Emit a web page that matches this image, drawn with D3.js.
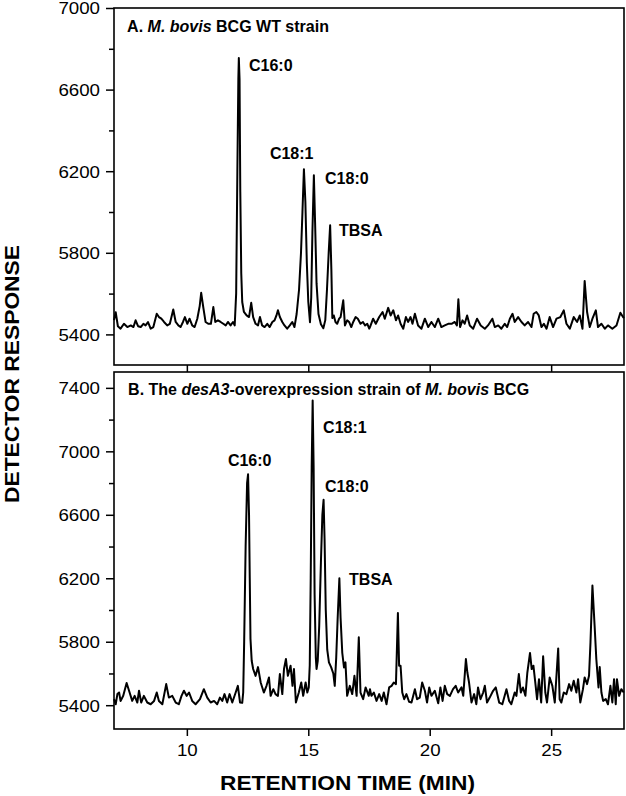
<!DOCTYPE html>
<html>
<head>
<meta charset="utf-8">
<script src="https://cdn.jsdelivr.net/npm/d3@7"></script>
<style>
body { margin: 0; background: #fff; }
svg { display: block; }
text { font-family: "Liberation Sans", Arial, sans-serif; fill: #000; }
</style>
</head>
<body>
<div id="chart"></div>
<script>
var chart_width = 626,
    chart_height = 796;

// [retention time (min), detector response] (WT strain)
var traceA = [
    [7.00,5470],[7.07,5509],[7.16,5440],[7.27,5428],[7.41,5452],[7.55,5436],[7.69,5444],[7.80,5436],
    [7.89,5469],[7.99,5440],[8.10,5436],[8.21,5452],[8.30,5444],[8.40,5460],[8.51,5428],[8.62,5436],
    [8.76,5501],[8.85,5485],[8.95,5477],[9.06,5461],[9.19,5444],[9.30,5452],[9.44,5522],[9.54,5461],
    [9.65,5444],[9.74,5436],[9.84,5461],[9.92,5485],[10.02,5452],[10.11,5477],[10.22,5444],[10.32,5436],
    [10.43,5477],[10.53,5540],[10.59,5604],[10.68,5530],[10.77,5461],[10.88,5452],[10.99,5452],[11.09,5534],
    [11.17,5461],[11.28,5469],[11.39,5461],[11.50,5452],[11.60,5444],[11.69,5461],[11.80,5444],[11.90,5461],
    [11.97,5444],[12.03,5600],[12.08,6200],[12.12,6650],[12.14,6755],[12.17,6650],[12.20,6100],[12.24,5700],
    [12.28,5559],[12.35,5510],[12.46,5493],[12.56,5485],[12.65,5555],[12.73,5485],[12.83,5452],[12.93,5444],
    [13.01,5485],[13.10,5444],[13.20,5436],[13.31,5452],[13.41,5436],[13.52,5461],[13.61,5469],[13.69,5493],
    [13.75,5518],[13.83,5485],[13.93,5461],[14.02,5444],[14.13,5428],[14.24,5444],[14.34,5461],[14.43,5436],
    [14.52,5500],[14.62,5620],[14.70,5800],[14.76,6000],[14.82,6210],[14.88,6050],[14.94,5750],[15.00,5560],
    [15.07,5460],[15.12,5580],[15.17,5900],[15.23,6180],[15.28,5950],[15.34,5650],[15.42,5500],[15.52,5450],
    [15.62,5430],[15.70,5470],[15.77,5620],[15.84,5800],[15.90,5935],[15.95,5720],[15.99,5480],[16.05,5493],
    [16.12,5461],[16.19,5452],[16.27,5477],[16.33,5485],[16.44,5567],[16.51,5444],[16.60,5469],[16.68,5461],
    [16.77,5436],[16.85,5461],[16.95,5485],[17.04,5477],[17.15,5452],[17.25,5461],[17.34,5444],[17.43,5452],
    [17.51,5428],[17.54,5436],[17.67,5477],[17.78,5452],[17.92,5485],[18.06,5510],[18.15,5477],[18.29,5530],
    [18.39,5493],[18.50,5518],[18.61,5469],[18.70,5493],[18.80,5452],[18.91,5428],[19.02,5485],[19.11,5461],
    [19.21,5485],[19.29,5452],[19.39,5501],[19.52,5444],[19.66,5428],[19.80,5477],[19.94,5436],[20.07,5461],
    [20.21,5436],[20.35,5477],[20.48,5436],[20.62,5444],[20.76,5452],[20.90,5452],[21.03,5461],[21.12,5444],
    [21.18,5572],[21.25,5436],[21.35,5469],[21.44,5452],[21.54,5493],[21.65,5444],[21.79,5428],[21.95,5477],
    [22.10,5444],[22.27,5428],[22.40,5444],[22.58,5477],[22.68,5436],[22.82,5444],[22.95,5428],[23.09,5452],
    [23.19,5436],[23.30,5477],[23.41,5501],[23.50,5461],[23.64,5485],[23.78,5461],[23.91,5444],[24.05,5461],
    [24.19,5436],[24.28,5501],[24.39,5510],[24.49,5493],[24.60,5436],[24.70,5452],[24.81,5428],[24.94,5485],
    [25.08,5436],[25.22,5477],[25.38,5485],[25.52,5518],[25.63,5452],[25.77,5428],[25.93,5485],[26.07,5461],
    [26.18,5493],[26.29,5428],[26.38,5662],[26.48,5510],[26.59,5436],[26.70,5477],[26.84,5518],[26.93,5436],
    [27.07,5452],[27.21,5428],[27.34,5444],[27.52,5428],[27.69,5444],[27.85,5506],[27.96,5485],[28.00,5480]
];

// panel B (desA3-overexpression strain)
var traceB = [
    [7.00,5438],[7.07,5406],[7.14,5470],[7.21,5480],[7.27,5427],[7.38,5459],[7.52,5540],[7.62,5491],
    [7.75,5427],[7.85,5459],[7.96,5417],[8.03,5491],[8.12,5417],[8.23,5459],[8.37,5417],[8.51,5406],
    [8.65,5427],[8.76,5480],[8.85,5427],[8.99,5406],[9.15,5533],[9.26,5448],[9.40,5459],[9.54,5417],
    [9.67,5406],[9.78,5459],[9.88,5491],[9.99,5459],[10.09,5480],[10.22,5427],[10.36,5406],[10.54,5438],
    [10.70,5501],[10.84,5448],[10.98,5417],[11.12,5427],[11.25,5406],[11.36,5448],[11.46,5427],[11.55,5470],
    [11.66,5417],[11.76,5470],[11.87,5417],[12.01,5480],[12.10,5522],[12.19,5417],[12.28,5415],[12.32,5480],
    [12.36,5800],[12.42,6400],[12.48,6800],[12.52,6855],[12.56,6600],[12.59,6200],[12.62,5817],[12.67,5680],
    [12.73,5628],[12.83,5585],[12.93,5640],[13.04,5543],[13.17,5480],[13.28,5522],[13.38,5575],[13.45,5459],
    [13.56,5501],[13.65,5470],[13.75,5459],[13.83,5596],[13.93,5470],[14.00,5628],[14.08,5691],[14.16,5585],
    [14.27,5649],[14.35,5522],[14.41,5628],[14.49,5417],[14.61,5480],[14.71,5543],[14.79,5459],[14.89,5543],
    [14.96,5480],[15.02,5512],[15.06,5650],[15.10,6200],[15.14,6900],[15.18,7320],[15.22,6900],[15.26,6100],
    [15.31,5700],[15.34,5628],[15.39,5680],[15.45,5900],[15.52,6300],[15.58,6600],[15.63,6695],[15.67,6450],
    [15.72,6000],[15.78,5750],[15.85,5670],[15.94,5640],[16.03,5600],[16.09,5522],[16.15,5700],[16.21,5950],
    [16.28,6200],[16.33,5950],[16.40,5729],[16.47,5638],[16.53,5670],[16.60,5459],[16.71,5522],[16.81,5470],
    [16.90,5585],[16.99,5459],[17.08,5828],[17.15,5480],[17.26,5438],[17.36,5512],[17.49,5459],[17.54,5501],
    [17.60,5459],[17.70,5480],[17.81,5427],[17.92,5470],[18.02,5427],[18.11,5480],[18.22,5406],[18.33,5512],
    [18.43,5522],[18.52,5543],[18.61,5533],[18.69,5981],[18.74,5649],[18.80,5649],[18.87,5480],[18.95,5438],
    [19.04,5470],[19.15,5422],[19.25,5417],[19.39,5501],[19.48,5438],[19.59,5448],[19.69,5543],[19.80,5491],
    [19.89,5417],[19.98,5512],[20.07,5459],[20.21,5491],[20.35,5412],[20.44,5512],[20.53,5427],[20.62,5522],
    [20.72,5470],[20.83,5459],[20.96,5501],[21.07,5522],[21.17,5480],[21.31,5512],[21.38,5459],[21.49,5691],
    [21.55,5606],[21.62,5543],[21.72,5417],[21.83,5470],[21.92,5406],[21.99,5512],[22.09,5438],[22.20,5480],
    [22.27,5522],[22.36,5417],[22.47,5448],[22.61,5491],[22.72,5512],[22.86,5417],[22.99,5406],[23.16,5501],
    [23.27,5427],[23.36,5406],[23.50,5480],[23.57,5459],[23.67,5596],[23.75,5480],[23.84,5512],[23.94,5459],
    [24.02,5606],[24.13,5729],[24.20,5628],[24.27,5649],[24.34,5554],[24.42,5438],[24.50,5564],[24.59,5417],
    [24.67,5708],[24.76,5480],[24.83,5417],[24.94,5575],[25.05,5522],[25.15,5417],[25.29,5758],[25.35,5438],
    [25.42,5417],[25.52,5480],[25.63,5470],[25.74,5533],[25.83,5491],[25.93,5554],[26.04,5480],[26.11,5564],
    [26.20,5417],[26.31,5501],[26.38,5575],[26.48,5533],[26.56,5585],[26.62,5796],[26.70,6154],[26.79,5901],
    [26.86,5691],[26.95,5512],[27.00,5640],[27.07,5480],[27.14,5427],[27.25,5438],[27.34,5406],[27.44,5522],
    [27.52,5417],[27.59,5564],[27.66,5406],[27.71,5564],[27.80,5459],[27.89,5501],[27.99,5480]
];

var timeTicks = [10, 15, 20, 25];
var majorTicksA = [5400, 5800, 6200, 6600, 7000];
var minorTicksA = [5600, 6000, 6400, 6800];
var majorTicksB = [5400, 5800, 6200, 6600, 7000, 7400];
var minorTicksB = [5600, 6000, 6400, 6800, 7200];

// peak labels, anchored in data units
var peaksA = [
    {name: "C16:0", t: 12.56, v: 6689},
    {name: "C18:1", t: 13.42, v: 6260},
    {name: "C18:0", t: 15.69, v: 6137},
    {name: "TBSA", t: 16.26, v: 5882}
];
var peaksB = [
    {name: "C16:0", t: 11.69, v: 6908},
    {name: "C18:1", t: 15.61, v: 7116},
    {name: "C18:0", t: 15.69, v: 6744},
    {name: "TBSA", t: 16.68, v: 6158}
];

// panel titles: [text, italic]
var titleA = [["A. ", false], ["M. bovis", true], [" BCG WT strain", false]];
var titleB = [["B. The ", false], ["desA3", true], ["-overexpression strain of ", false], ["M. bovis", true], [" BCG", false]];

var svg = d3.select("#chart")
    .append("svg")
    .attr("width", chart_width)
    .attr("height", chart_height);

var x = d3.scaleLinear().domain([7, 28]).range([114, 624]);

var panels = [
    {top: 8, bottom: 365, domain: [5250, 7000], trace: traceA, major: majorTicksA, minor: minorTicksA,
     peaks: peaksA, title: titleA, titlePos: [7.54, 6880], labels: false},
    {top: 372, bottom: 729, domain: [5250, 7500], trace: traceB, major: majorTicksB, minor: minorTicksB,
     peaks: peaksB, title: titleB, titlePos: [7.58, 7358], labels: true}
];

function styleAxis(g) {
    g.select('.domain').remove();
    g.selectAll('line').attr('stroke', '#000').attr('stroke-width', 1.5);
    g.attr('font-family', null).attr('font-size', null);
    g.selectAll('text')
        .attr('font-size', 16)
        .attr('textLength', function (d) { return String(d).length * 10.4; })
        .attr('lengthAdjust', 'spacingAndGlyphs');
}

panels.forEach(function (p) {
    var y = d3.scaleLinear().domain(p.domain).range([p.bottom, p.top]);
    var panel = svg.append('g');

    // y axis, major then minor ticks
    panel.append('g')
        .attr('transform', 'translate(' + x.range()[0] + ',0)')
        .call(d3.axisLeft(y).tickValues(p.major).tickSize(8).tickPadding(6).tickFormat(d3.format('d')))
        .call(styleAxis)
        .selectAll('text').attr('dy', '0.37em');

    panel.append('g')
        .attr('transform', 'translate(' + x.range()[0] + ',0)')
        .call(d3.axisLeft(y).tickValues(p.minor).tickSize(5).tickFormat(''))
        .call(styleAxis);

    // x axis
    var xAxis = panel.append('g')
        .attr('transform', 'translate(0,' + p.bottom + ')')
        .call(d3.axisBottom(x).tickValues(timeTicks).tickSize(7).tickFormat(p.labels ? d3.format('d') : ''))
        .call(styleAxis);
    xAxis.selectAll('text').attr('y', 27).attr('dy', null);

    // trace
    var line = d3.line()
        .x(function (d) { return x(d[0]); })
        .y(function (d) { return y(d[1]); });

    panel.append('path')
        .datum(p.trace)
        .attr('d', line)
        .attr('fill', 'none')
        .attr('stroke', '#000')
        .attr('stroke-width', 2)
        .attr('stroke-linejoin', 'round');

    // frame
    panel.append('rect')
        .attr('x', x.range()[0])
        .attr('y', p.top)
        .attr('width', x.range()[1] - x.range()[0])
        .attr('height', p.bottom - p.top)
        .attr('fill', 'none')
        .attr('stroke', '#000')
        .attr('stroke-width', 1.6);

    // title
    var title = panel.append('text')
        .attr('x', x(p.titlePos[0]))
        .attr('y', y(p.titlePos[1]))
        .attr('font-size', 16)
        .attr('font-weight', 'bold');
    title.selectAll('tspan')
        .data(p.title)
        .enter()
        .append('tspan')
        .attr('font-style', function (d) { return d[1] ? 'italic' : null; })
        .text(function (d) { return d[0]; });

    // peak labels
    panel.selectAll('.peak')
        .data(p.peaks)
        .enter()
        .append('text')
        .attr('class', 'peak')
        .attr('x', function (d) { return x(d.t); })
        .attr('y', function (d) { return y(d.v); })
        .attr('font-size', 16)
        .attr('font-weight', 'bold')
        .text(function (d) { return d.name; });
});

// axis titles
svg.append('text')
    .attr('transform', 'translate(19,374) rotate(-90)')
    .attr('text-anchor', 'middle')
    .attr('font-size', 21)
    .attr('font-weight', 'bold')
    .attr('textLength', 258)
    .attr('lengthAdjust', 'spacingAndGlyphs')
    .text('DETECTOR RESPONSE');

svg.append('text')
    .attr('x', 220)
    .attr('y', 790)
    .attr('font-size', 21)
    .attr('font-weight', 'bold')
    .attr('textLength', 255)
    .attr('lengthAdjust', 'spacingAndGlyphs')
    .text('RETENTION TIME (MIN)');
</script>
</body>
</html>
